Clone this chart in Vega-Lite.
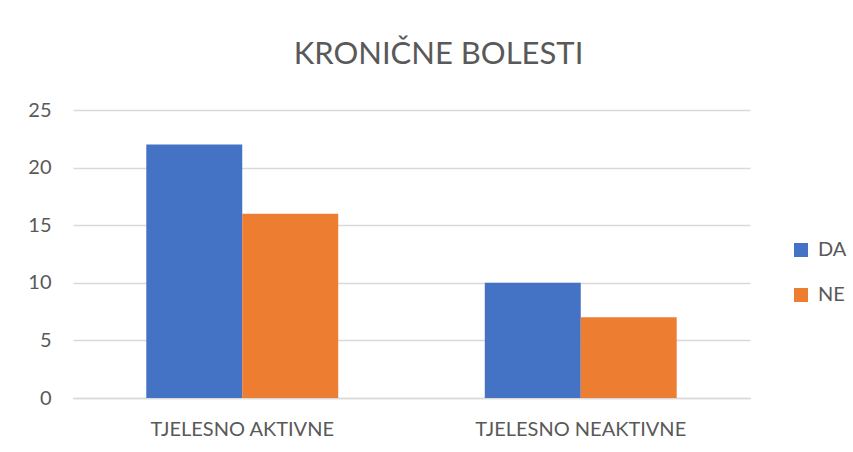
{
  "$schema": "https://vega.github.io/schema/vega-lite/v6.json",
  "width": 677,
  "height": 288,
  "autosize": "none",
  "padding": {"left": 73, "top": 110, "right": 103, "bottom": 54},
  "background": "white",
  "title": {
    "text": "KRONIČNE BOLESTI",
    "font": "Lato",
    "fontSize": 31,
    "fontWeight": "normal",
    "color": "#595959",
    "anchor": "middle",
    "frame": "group",
    "dx": 27,
    "offset": 29
  },
  "data": {
    "values": [
      {"grupa": "TJELESNO AKTIVNE", "odgovor": "DA", "broj": 22},
      {"grupa": "TJELESNO AKTIVNE", "odgovor": "NE", "broj": 16},
      {"grupa": "TJELESNO NEAKTIVNE", "odgovor": "DA", "broj": 10},
      {"grupa": "TJELESNO NEAKTIVNE", "odgovor": "NE", "broj": 7}
    ]
  },
  "mark": {"type": "bar"},
  "encoding": {
    "x": {
      "field": "grupa",
      "type": "nominal",
      "sort": null,
      "scale": {"paddingInner": 0.433, "paddingOuter": 0.2165},
      "axis": {
        "title": null,
        "labelAngle": 0,
        "labelFont": "Lato",
        "labelFontSize": 20,
        "labelColor": "#595959",
        "labelPadding": 21,
        "labelLimit": 0,
        "ticks": false,
        "domainColor": "#D9D9D9",
        "domainWidth": 1.5
      }
    },
    "xOffset": {"field": "odgovor", "type": "nominal", "scale": {"padding": 0}},
    "y": {
      "field": "broj",
      "type": "quantitative",
      "scale": {"domain": [0, 25], "nice": false},
      "axis": {
        "title": null,
        "values": [0, 5, 10, 15, 20, 25],
        "domain": false,
        "ticks": false,
        "gridColor": "#D9D9D9",
        "gridWidth": 1.5,
        "labelFont": "Lato",
        "labelFontSize": 20,
        "labelColor": "#595959",
        "labelPadding": 22
      }
    },
    "color": {
      "field": "odgovor",
      "type": "nominal",
      "scale": {"domain": ["DA", "NE"], "range": ["#4472C4", "#ED7D31"]},
      "legend": {
        "title": null,
        "orient": "none",
        "legendX": 718,
        "legendY": 130,
        "symbolType": "square",
        "symbolSize": 196,
        "symbolStrokeWidth": 0,
        "labelFont": "Lato",
        "labelFontSize": 20,
        "labelColor": "#595959",
        "labelOffset": 7,
        "rowPadding": 25,
        "padding": 0
      }
    }
  },
  "config": {"view": {"stroke": null}}
}
